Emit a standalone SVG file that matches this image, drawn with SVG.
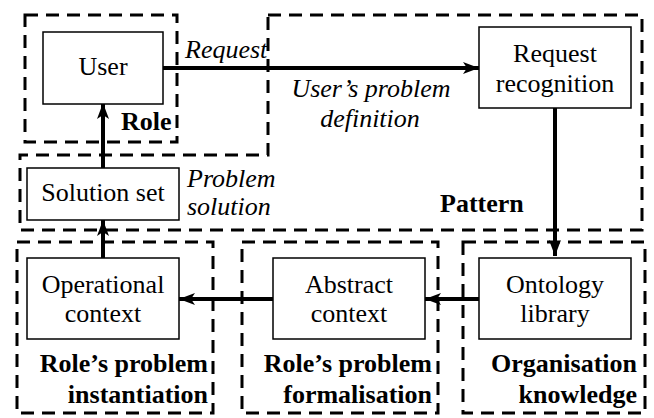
<svg xmlns="http://www.w3.org/2000/svg" width="654" height="418" viewBox="0 0 654 418">
<style>
.reg{fill:none;stroke:#000;stroke-width:3;stroke-dasharray:13 8}
.box{fill:#fff;stroke:#000;stroke-width:1.5}
text{font-size:26px;fill:#000}
.c{text-anchor:middle}
.i{font-style:italic}
.b{font-weight:bold}
.e{text-anchor:end}
.arr{stroke:#000;stroke-width:4;fill:none;marker-end:url(#ah)}
</style>
<defs>
<marker id="ah" markerUnits="userSpaceOnUse" markerWidth="16" markerHeight="12" refX="16" refY="6" orient="auto">
<path d="M0,0 L16,6 L0,12 L4,6 Z" fill="#000"/>
</marker>
</defs>
<g id="regions">
<rect id="region-role" class="reg" x="25" y="15" width="152" height="127"/>
<path id="region-pattern" class="reg" d="M268,15 H642 V230 H20 V155 H268 Z"/>
<rect id="region-instantiation" class="reg" x="17" y="242" width="196" height="171"/>
<rect id="region-formalisation" class="reg" x="242" y="242" width="196" height="171"/>
<rect id="region-knowledge" class="reg" x="463" y="242" width="182" height="171"/>
</g>
<g id="connectors">
<line class="arr" x1="163" y1="68" x2="479" y2="68"/>
<line class="arr" x1="555" y1="108" x2="555" y2="256"/>
<line class="arr" x1="479" y1="299" x2="425" y2="299"/>
<line class="arr" x1="273" y1="299" x2="179" y2="299"/>
<line class="arr" x1="103" y1="258" x2="103" y2="220"/>
<line class="arr" x1="103" y1="168" x2="103" y2="103"/>
</g>
<g font-family="'Times New Roman', 'Liberation Serif', 'DejaVu Serif', serif">
<g id="user"><rect class="box" x="43" y="32" width="120" height="72"/><text class="c" x="103" y="75">User</text></g>
<g id="request-recognition"><rect class="box" x="479" y="27" width="152" height="81"/><text class="c" x="555" y="62">Request</text><text class="c" x="555" y="92">recognition</text></g>
<g id="solution-set"><rect class="box" x="27" y="168" width="152" height="52"/><text class="c" x="103" y="201">Solution set</text></g>
<g id="operational-context"><rect class="box" x="27" y="258" width="152" height="81"/><text class="c" x="103" y="293">Operational</text><text class="c" x="103" y="322">context</text></g>
<g id="abstract-context"><rect class="box" x="273" y="258" width="152" height="81"/><text class="c" x="349" y="293">Abstract</text><text class="c" x="349" y="322">context</text></g>
<g id="ontology-library"><rect class="box" x="479" y="258" width="152" height="81"/><text class="c" x="555" y="293">Ontology</text><text class="c" x="555" y="322">library</text></g>
<g id="labels">
<text class="i" x="185" y="58">Request</text>
<text class="i c" x="371" y="97">User’s problem</text>
<text class="i c" x="370" y="127">definition</text>
<text class="i" x="187" y="187">Problem</text>
<text class="i" x="187" y="215">solution</text>
<text class="b" x="121" y="130">Role</text>
<text class="b" x="440" y="212">Pattern</text>
<text class="b e" x="208" y="372">Role’s problem</text>
<text class="b e" x="208" y="403">instantiation</text>
<text class="b e" x="432" y="372">Role’s problem</text>
<text class="b e" x="432" y="403">formalisation</text>
<text class="b e" x="637" y="372">Organisation</text>
<text class="b e" x="637" y="403">knowledge</text>
</g>
</g>
</svg>
